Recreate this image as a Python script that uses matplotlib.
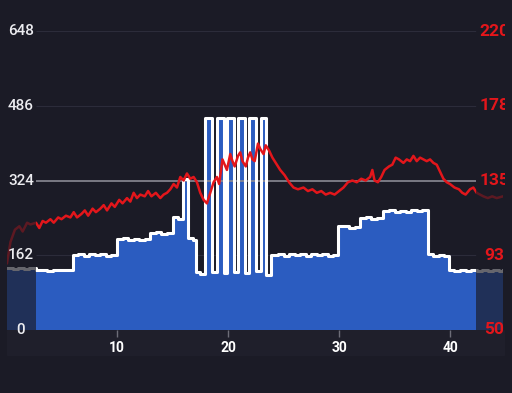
import matplotlib
matplotlib.use("Agg")
import matplotlib.pyplot as plt
import matplotlib.transforms as mtransforms
from matplotlib.patches import Rectangle

# power (W) sampled as steps, time in minutes
pw_t = [0.09, 0.6, 1.1, 1.6, 2.1, 2.7, 3.2, 3.7, 4.2, 4.7, 5.2, 5.6,
        6.0, 6.5, 7.0, 7.5, 8.0, 8.5, 9.0, 9.5,
        10.0, 10.5, 11.0, 11.5, 12.0, 12.5, 13.0, 13.5, 14.0, 14.5,
        15.0, 15.5, 15.9, 16.4, 16.8, 17.1, 17.5,
        17.9, 18.6, 19.0, 19.6, 19.9, 20.5, 20.9, 21.5, 21.9, 22.5, 23.0, 23.4,
        23.9, 24.5, 25.0, 25.5, 26.0, 26.5, 27.0, 27.5, 28.0, 28.5, 29.0, 29.5,
        29.9, 30.4, 30.9, 31.4, 31.9, 32.4, 32.9, 33.4,
        34.0, 34.5, 35.0, 35.5, 36.0, 36.5, 37.0, 37.5,
        38.0, 38.5, 39.0, 39.5, 39.9, 40.4, 40.9, 41.4, 41.9, 42.4, 42.9,
        43.4, 43.9, 44.4, 44.77]
pw_w = [134, 132, 135, 133, 134, 129, 131, 128, 131, 129, 131, 129,
        163, 164, 161, 164, 162, 165, 161, 163,
        197, 199, 196, 198, 195, 197, 210, 212, 208, 211,
        244, 241, 328, 199, 196, 125, 122,
        460, 126, 460, 124, 460, 126, 460, 124, 460, 127, 460, 120,
        162, 164, 161, 164, 163, 165, 161, 164, 162, 164, 161, 163,
        225, 226, 222, 224, 242, 244, 240, 243,
        257, 259, 256, 258, 256, 259, 257, 259,
        164, 161, 163, 161, 130, 128, 131, 128, 130, 128, 130,
        128, 130, 128, 129]

# heart rate (bpm)
hr_t = [0.09, 0.4, 0.8, 1.2, 1.5, 1.9, 2.2, 2.7, 3.0, 3.3, 3.6, 4.0, 4.3, 4.7,
        5.0, 5.4, 5.8, 6.1, 6.4, 6.8, 7.1, 7.4, 7.8, 8.1, 8.5, 8.8, 9.1, 9.5,
        9.8, 10.2, 10.5, 10.9, 11.2, 11.5, 11.8, 12.1, 12.5, 12.8, 13.1, 13.5,
        13.9, 14.2, 14.5, 14.8, 15.1, 15.4, 15.7, 16.0, 16.3, 16.6, 16.9, 17.2,
        17.5, 17.8, 18.1, 18.4, 18.7, 19.0, 19.2, 19.5, 19.7, 19.9, 20.2, 20.4,
        20.6, 20.9, 21.1, 21.3, 21.6, 21.8, 22.0, 22.2, 22.4, 22.7, 22.9, 23.2,
        23.4, 23.7, 24.0, 24.3, 24.7, 25.1, 25.5, 25.9, 26.3, 26.8, 27.2, 27.6,
        28.0, 28.4, 28.8, 29.2, 29.6, 30.0, 30.4, 30.8, 31.2, 31.6, 32.0, 32.4,
        32.8, 33.0, 33.2, 33.5, 33.8, 34.1, 34.5, 34.8, 35.1, 35.4, 35.8, 36.1,
        36.4, 36.7, 37.0, 37.3, 37.6, 37.9, 38.2, 38.5, 38.8, 39.1, 39.4, 39.7,
        40.0, 40.4, 40.8, 41.1, 41.4, 41.8, 42.1, 42.4, 42.7, 43.0, 43.4, 43.8,
        44.2, 44.77]
hr_v = [88, 100, 107, 109, 106, 111, 110, 111, 108, 112, 111, 113, 111, 114,
        113, 115, 114, 117, 114, 116, 118, 115, 119, 117, 119, 121, 118, 122,
        120, 124, 122, 125, 123, 128, 125, 127, 126, 129, 126, 128,
        125, 127, 128, 130, 133, 131, 137, 135, 139, 136, 137, 134,
        128, 124, 122, 128, 134, 137, 133, 147, 144, 141, 150, 146,
        143, 149, 151, 146, 143, 148, 151, 147, 146, 156, 153, 150,
        155, 152, 148, 145, 141, 138, 134, 131, 130, 131, 129, 130,
        128, 129, 127, 128, 127, 129, 131, 134, 135, 134, 136, 135,
        137, 141, 135, 134, 137, 141, 143, 144, 148, 147, 145, 147,
        146, 149, 146, 148, 147, 146, 147, 145, 144, 140, 136, 134,
        133, 131, 130, 128, 127, 130, 131, 128, 127, 126, 125, 126,
        125, 126]

pw_ticks = [0, 162, 324, 486, 648]
hr_tick_labels = ["50", "93", "135", "178", "220"]
hr_range = (50, 220)
x_ticks = [10, 20, 30, 40]
sel_start, sel_end = 2.7, 42.34
threshold = 324

bg = "#1b1b26"
blue = "#2b5cc0"
red = "#e3161b"

plt.rcParams["font.family"] = ["Roboto", "DejaVu Sans"]

fig = plt.figure(figsize=(5.12, 3.93), dpi=100, facecolor=bg)
W, H = 512, 393
ax = fig.add_axes([7 / W, 63 / H, 496 / W, 299 / H])
ax.set_facecolor(bg)
for s in ax.spines.values():
    s.set_visible(False)

# x axis band below the plot
fig.patches.append(Rectangle((7 / W, 38 / H), 497 / W, 25 / H,
                             transform=fig.transFigure, color="#1f1f2b", zorder=-1))

ax.fill_between(pw_t, pw_w, 0, step="post", color=blue, lw=0, zorder=2)
ax.step(pw_t, pw_w, where="post", color="white", lw=2.2, zorder=3)

# grid, only across the selected range
for v in pw_ticks[1:]:
    if v == threshold:
        ax.hlines(v, sel_start, sel_end, color="#8a8a94", lw=1.2, zorder=2.5)
    else:
        ax.hlines(v, sel_start, sel_end, color="#2c2c3a", lw=0.8, zorder=1)

ax.set_xlim(pw_t[0], pw_t[-1])
ax.set_ylim(pw_ticks[0], pw_ticks[-1])
ax.set_yticks([])
ax.set_xticks(x_ticks)
ax.tick_params(axis="x", length=5, width=1, color="#6d6d78", pad=3,
               labelcolor="white", labelsize=10)
for lbl in ax.get_xticklabels():
    lbl.set_fontweight("bold")

ax2 = ax.twinx()
for s in ax2.spines.values():
    s.set_visible(False)
ax2.plot(hr_t, hr_v, color=red, lw=1.8, zorder=3)
ax2.set_ylim(*hr_range)
ax2.set_yticks([])

# dim overlay outside selection
ax2.axvspan(pw_t[0], sel_start, color=bg, alpha=0.67, lw=0, zorder=5)
ax2.axvspan(sel_end, pw_t[-1], color=bg, alpha=0.67, lw=0, zorder=5)

tr = mtransforms.blended_transform_factory(ax.transAxes, ax.transData)
for v, hl in zip(pw_ticks, hr_tick_labels):
    ax2.text(0.028, v, str(v), transform=tr, ha="center", va="center",
             color="#ececf0", fontsize=11, fontweight="medium", zorder=6,
             clip_on=False)
    t = ax2.text(0.982, v, hl, transform=tr, ha="center", va="center",
                 color=red, fontsize=12.5, fontweight="bold", zorder=6)
    t.set_clip_box(mtransforms.Bbox.from_extents(0, 0, 505, H))
    t.set_clip_on(True)

fig.savefig("out.png", dpi=100, facecolor=bg)
